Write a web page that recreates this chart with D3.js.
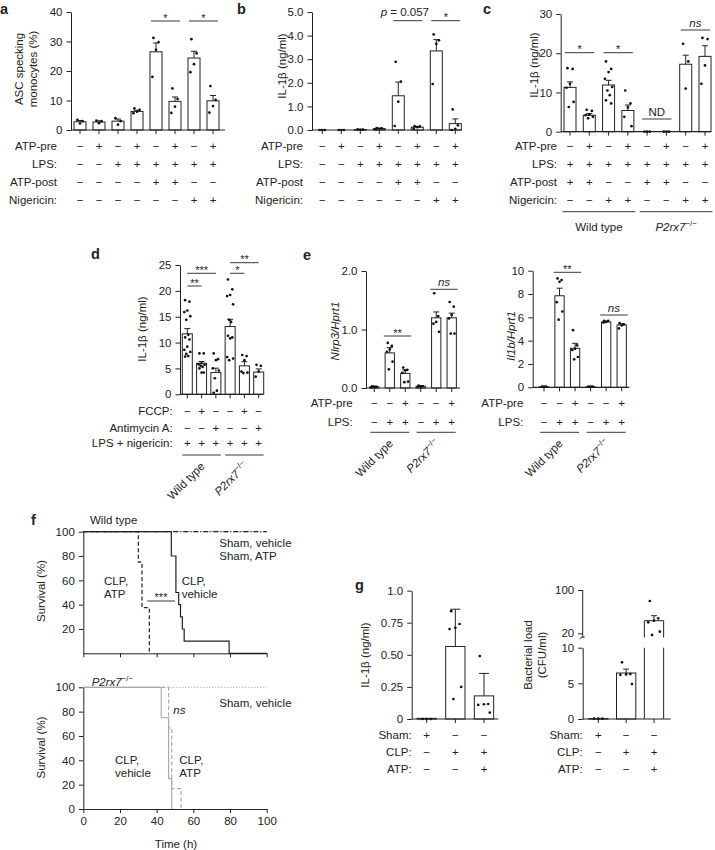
<!DOCTYPE html>
<html>
<head>
<meta charset="utf-8">
<script src="https://cdnjs.cloudflare.com/ajax/libs/d3/7.8.5/d3.min.js"></script>
<style>
  body { margin: 0; background: #fff; }
  svg { display: block; }
  text { fill: #222; }
</style>
</head>
<body>
<div id="fig"></div>
<script>
// ---- panel a : ASC specking
var aMeans = [2.8, 2.7, 3.0, 6.3, 26.5, 9.7, 24.4, 9.9];
var aSem = [0.4, 0.4, 0.7, 0.4, 3.0, 1.5, 2.3, 1.8];
var aDots = [[3.4, 3.0, 2.2], [3.2, 3.0, 2.3], [4.0, 3.0, 1.8], [7.3, 6.8, 6.2, 5.7],
             [31.2, 29.8, 27.2, 18.0], [14.1, 10.5, 7.9, 5.8], [30.8, 26.0, 22.3, 19.6], [14.9, 10.2, 8.1, 5.9]];
var abRowLabels = ["ATP-pre", "LPS:", "ATP-post", "Nigericin:"];
var aRowSigns = ["-+-+-+-+", "--++++++", "----++--", "------++"];
var aSig = [[4, 5, "*"], [6, 7, "*"]];

// ---- panel b : IL-1b
var bMeans = [0, 0, 0.02, 0.06, 1.45, 0.12, 3.35, 0.27];
var bSem = [0, 0, 0.01, 0.02, 0.58, 0.03, 0.48, 0.2];
var bDots = [[0, 0, 0], [0, 0, 0], [0.03, 0.02, 0.01], [0.08, 0.07, 0.05, 0.03],
             [2.89, 2.05, 1.2, 0.17], [0.16, 0.15, 0.12, 0.06], [4.05, 3.8, 3.65, 1.95], [0.87, 0.2, 0.05, 0.0]];
var bSig = [[4, 5, "p"], [6, 7, "*"]];

// ---- panel c : IL-1b, wild type vs P2rx7
var cMeans = [11.3, 4.2, 11.9, 5.4, 0, 0, 17.2, 19.2];
var cSem = [1.4, 0.4, 1.2, 1.4, 0, 0, 2.3, 2.7];
var cDots = [[16.2, 16.0, 12.2, 11.2, 7.6, 6.3], [5.6, 5.3, 4.4, 4.2, 3.8, 3.4],
             [17.9, 16.0, 15.2, 13.5, 11.4, 10.5, 9.3, 8.0, 7.2], [10.5, 7.2, 6.2, 3.8, 1.4],
             [0, 0, 0], [0, 0, 0], [22.4, 17.9, 11.0], [23.9, 23.6, 16.9, 12.2]];
var cRowSigns = ["-+-+-+-+", "++++++++", "++--++--", "--++--++"];
var cSig = [[0, 1, "*"], [2, 3, "*"], [4, 5, "ND"], [6, 7, "ns"]];
var groupNames = ["Wild type", "P2rx7"];

// ---- panel d : FCCP / antimycin A
var dMeans = [11.7, 6.0, 4.2, 13.1, 5.5, 4.3];
var dSem = [1.0, 0.35, 0.85, 1.4, 0.8, 0.6];
var dDots = [[18.2, 17.9, 16.2, 15.9, 15.1, 14.4, 11.5, 11.0, 10.6, 9.2, 8.6, 8.2, 7.8, 7.4, 7.3],
             [7.9, 7.9, 6.0, 5.8, 5.7, 5.5, 5.3, 5.0, 4.2, 4.2],
             [7.9, 6.8, 6.6, 5.0, 4.6, 3.1, 0.7, 0.3],
             [22.2, 20.3, 19.2, 19.0, 17.4, 14.4, 14.0, 11.3, 11.0, 10.8, 7.2, 6.9, 6.6],
             [7.6, 7.4, 6.6, 4.4, 4.2, 4.1],
             [5.7, 5.5, 4.4, 3.4]];
var dRowLabels = ["FCCP:", "Antimycin A:", "LPS + nigericin:"];
var dRowSigns = ["-+--+-", "--+--+", "++++++"];
var dSig = [[0, 2, "***"], [0, 1, "**"], [3, 5, "**"], [3, 4, "*"]];

// ---- panel e : Nlrp3 and Il1b expression
var e1Means = [0.02, 0.6, 0.25, 0.03, 1.2, 1.2];
var e1Sem = [0.01, 0.09, 0.06, 0.01, 0.1, 0.08];
var e1Dots = [[0.03, 0.02, 0.02, 0.01], [0.77, 0.72, 0.66, 0.62, 0.45, 0.32], [0.35, 0.31, 0.3, 0.26, 0.11, 0.1],
              [0.04, 0.03, 0.02, 0.02], [1.62, 1.23, 1.13, 1.1, 0.96], [1.47, 1.39, 1.25, 1.19, 0.93, 0.93]];
var e2Means = [0.05, 7.85, 3.35, 0.05, 5.6, 5.35];
var e2Sem = [0.02, 0.65, 0.42, 0.02, 0.08, 0.1];
var e2Dots = [[0.06, 0.05, 0.05], [9.34, 9.2, 9.05, 7.3, 6.5, 5.8], [4.9, 3.6, 3.3, 3.2, 2.6, 2.4],
              [0.06, 0.05, 0.05], [5.7, 5.7, 5.6, 5.55], [5.5, 5.4, 5.3, 5.05]];
var eRowLabels = ["ATP-pre", "LPS:"];
var eRowSigns = ["--+--+", "-++-++"];
var eSig = [[1, 2, "**"], [4, 5, "ns"]];

// ---- panel f : survival curves  [time (h), survival (%)]
var fWtShamVeh = [[0, 100], [100, 100]];
var fWtShamAtp = [[0, 100], [100, 100]];
var fWtClpAtp = [[0, 100], [30, 75], [32, 37.5], [36, 0], [36, 0]];
var fWtClpVeh = [[0, 100], [48, 80], [50.5, 50], [52, 40], [53, 30], [54, 20], [55, 10], [79.5, 0], [100, 0]];
var fKoShamVeh = [[0, 100], [100, 100]];
var fKoClpVeh = [[0, 100], [42.5, 75], [46.5, 25], [48.2, 0], [48.2, 0]];
var fKoClpAtp = [[0, 100], [46.5, 66.7], [48.2, 16.7], [53.3, 0], [53.3, 0]];
var fTicks = [0, 20, 40, 60, 80, 100];

// ---- panel g : CLP
var g1Means = [0.005, 0.565, 0.18];
var g1Sd = [0, 0.29, 0.175];
var g1Dots = [[0, 0, 0], [0.84, 0.74, 0.71, 0.70, 0.25, 0.155], [0.49, 0.117, 0.115, 0.11, 0.05]];
var g2Means = [0.05, 6.45, 43.3];
var g2Sem = [0.02, 0.55, 9.2];
var g2Dots = [[0.05, 0.05, 0.05], [7.95, 6.3, 6.25, 6.2, 4.9], [79.7, 47.7, 43.3, 40.3, 23, 17]];
var gRowLabels = ["Sham:", "CLP:", "ATP:"];
var gRowSigns = ["+--", "-++", "--+"];

var font = "'Liberation Sans', Arial, Helvetica, sans-serif";
var ink = "#222";
var fs = 11.5;

var svg = d3.select("#fig").append("svg")
  .attr("width", 715)
  .attr("height", 850)
  .style("font-family", font);

function styleAxis(sel) {
  sel.attr("font-family", null).attr("font-size", null);
  sel.select(".domain").attr("stroke", ink).attr("stroke-width", 1);
  sel.selectAll(".tick line").attr("stroke", ink).attr("stroke-width", 1);
  sel.selectAll(".tick text").attr("fill", ink).style("font-size", fs + "px");
}

function sign(c) { return c == "+" ? "+" : "\u2212"; }

function koText(t, size) {
  t.append("tspan").attr("font-style", "italic").text("P2rx7");
  t.append("tspan").attr("font-size", size * 0.68).attr("dy", -size * 0.42).text("\u2212/\u2212");
}

function panelLetter(x, y, s) {
  svg.append("text").attr("x", x).attr("y", y).text(s)
    .style("font-size", "14.5px").style("font-weight", "bold");
}

function yLabel(x, y, lines, italic) {
  lines.forEach(function(s, k) {
    svg.append("text")
      .attr("transform", "translate(" + (x + k * 13.5) + "," + y + ") rotate(-90)")
      .attr("text-anchor", "middle")
      .attr("dominant-baseline", "central")
      .attr("font-style", italic ? "italic" : null)
      .style("font-size", fs + "px")
      .text(s);
  });
}

var jit = [-2.6, 2.6, 0, -3.6, 3.6, -1.2, 1.2];

function barPanel(L, means, errs, dots, rowLabels, rowSigns, sigs) {
  var g = svg.append("g");
  var x = d3.scalePoint().domain(d3.range(means.length)).range(L.xr);
  var y = d3.scaleLinear().domain(L.yd).range(L.yr);

  var yAxis = d3.axisLeft(y).tickValues(L.ticks).tickSize(4.5).tickSizeOuter(0).tickPadding(4);
  if (L.fmt) yAxis.tickFormat(L.fmt);
  g.append("g").attr("transform", "translate(" + L.ax + ",0)").call(yAxis).call(styleAxis);

  // bars
  g.selectAll(".bar").data(means).join("rect")
    .attr("x", function(d, i) { return x(i) - L.bw / 2; })
    .attr("y", function(d) { return y(d); })
    .attr("width", L.bw)
    .attr("height", function(d) { return y(L.yd[0]) - y(d); })
    .attr("fill", "#fff").attr("stroke", ink).attr("stroke-width", 1);

  // x baseline and ticks under bars
  g.append("line").attr("x1", L.ax).attr("x2", L.xEnd).attr("y1", y(0)).attr("y2", y(0))
    .attr("stroke", ink).attr("stroke-width", 1.2);
  g.selectAll(".xt").data(means).join("line")
    .attr("x1", function(d, i) { return x(i); }).attr("x2", function(d, i) { return x(i); })
    .attr("y1", y(0)).attr("y2", y(0) + 4)
    .attr("stroke", ink);

  // error bars (upper)
  means.forEach(function(m, i) {
    if (errs[i] <= 0) return;
    var cx = x(i), cap = L.cap || 3;
    g.append("path")
      .attr("d", "M" + cx + "," + y(m) + "V" + y(m + errs[i]) + "M" + (cx - cap) + "," + y(m + errs[i]) + "H" + (cx + cap))
      .attr("stroke", ink).attr("fill", "none");
  });

  // individual points
  dots.forEach(function(list, i) {
    list.forEach(function(v, k) {
      g.append("circle").attr("cx", x(i) + jit[k % jit.length] * L.bw / 12).attr("cy", y(v))
        .attr("r", 1.35).attr("fill", "#111");
    });
  });

  // condition rows
  rowLabels.forEach(function(lab, r) {
    g.append("text").attr("x", L.rowX).attr("y", L.rows[r])
      .attr("text-anchor", "end").attr("dominant-baseline", "central")
      .style("font-size", fs + "px").text(lab);
    rowSigns[r].split("").forEach(function(c, i) {
      g.append("text").attr("x", x(i)).attr("y", L.rows[r])
        .attr("text-anchor", "middle").attr("dominant-baseline", "central")
        .style("font-size", fs + "px").text(sign(c));
    });
  });

  // significance brackets
  (sigs || []).forEach(function(s, k) {
    var ly = L.sigY[k];
    var x1 = x(s[0]) - L.sigPad, x2 = x(s[1]) + L.sigPad;
    g.append("line").attr("x1", x1).attr("x2", x2).attr("y1", ly).attr("y2", ly)
      .attr("stroke", ink).attr("stroke-width", 0.9);
    var cx = (x1 + x2) / 2;
    if (s[2] == "p") {
      var t = g.append("text").attr("x", cx - 3).attr("y", ly - 5).attr("text-anchor", "middle")
        .style("font-size", fs + "px");
      t.append("tspan").attr("font-style", "italic").text("p");
      t.append("tspan").text(" = 0.057");
    } else if (s[2] == "ns" || s[2] == "ND") {
      g.append("text").attr("x", cx).attr("y", ly - 3).attr("text-anchor", "middle")
        .attr("font-style", s[2] == "ns" ? "italic" : null)
        .style("font-size", fs + "px").text(s[2]);
    } else {
      g.append("text").attr("x", cx).attr("y", ly + 0.5).attr("text-anchor", "middle")
        .style("font-size", "11px").text(s[2]);
    }
  });

  // genotype groups
  if (L.groupY) {
    var half = means.length / 2;
    [0, 1].forEach(function(gi) {
      var x1 = x(gi * half) - L.groupPad, x2 = x(gi * half + half - 1) + L.groupPad;
      g.append("line").attr("x1", x1).attr("x2", x2).attr("y1", L.groupY).attr("y2", L.groupY)
        .attr("stroke", ink).attr("stroke-width", 0.9);
      var cx = (x1 + x2) / 2;
      var t;
      if (L.groupRot) {
        t = g.append("text").attr("text-anchor", "end")
          .attr("transform", "translate(" + (cx + 4) + "," + (L.groupY + 12) + ") rotate(-45)")
          .style("font-size", fs + "px");
      } else {
        t = g.append("text").attr("x", cx).attr("y", L.groupY + 19).attr("text-anchor", "middle")
          .style("font-size", fs + "px");
      }
      if (gi == 0) t.text(groupNames[0]); else koText(t, fs);
    });
  }
  return { x: x, y: y };
}

// ---------------- a
panelLetter(0, 14, "a");
barPanel({ ax: 71, xr: [80, 213], xEnd: 225, yd: [0, 40], yr: [130, 12], ticks: [0, 10, 20, 30, 40],
           bw: 12, rows: [146, 164, 182, 200], rowX: 57, sigY: [21, 21], sigPad: 5 },
         aMeans, aSem, aDots, abRowLabels, aRowSigns, aSig);
yLabel(19, 69, ["ASC specking", "monocytes (%)"]);

// ---------------- b
panelLetter(237, 14, "b");
barPanel({ ax: 312, xr: [322.3, 455.3], xEnd: 462, yd: [0, 5], yr: [130, 12], ticks: [0, 1, 2, 3, 4, 5],
           bw: 12, rows: [146, 164, 182, 200], rowX: 303, sigY: [20.7, 20.7], sigPad: 5 },
         bMeans, bSem, bDots, abRowLabels, aRowSigns, bSig);
yLabel(282, 66, ["IL-1\u03b2 (ng/ml)"]);

// ---------------- c
panelLetter(483, 14, "c");
barPanel({ ax: 560.7, xr: [570, 705], xEnd: 711, yd: [0, 30], yr: [131.7, 14], ticks: [0, 10, 20, 30],
           bw: 12, rows: [146, 164, 182, 200], rowX: 557, sigY: [52.7, 52.7, 119, 30], sigPad: 5,
           groupY: 211.7, groupPad: 7.5 },
         cMeans, cSem, cDots, abRowLabels, cRowSigns, cSig);
yLabel(533.5, 65, ["IL-1\u03b2 (ng/ml)"]);

// ---------------- d
panelLetter(91, 259, "d");
barPanel({ ax: 180, xr: [187.3, 258.7], xEnd: 263, yd: [0, 25], yr: [394.3, 265], ticks: [0, 5, 10, 15, 20, 25],
           bw: 10, rows: [411, 427.7, 443.3], rowX: 172.7, sigY: [273.3, 286, 262.7, 273.3], sigPad: 0,
           groupY: 455, groupPad: 5, groupRot: true },
         dMeans, dSem, dDots, dRowLabels, dRowSigns, dSig);
yLabel(141.7, 329, ["IL-1\u03b2 (ng/ml)"]);

// ---------------- e
panelLetter(303, 260, "e");
barPanel({ ax: 366, xr: [374.3, 451.7], xEnd: 460, yd: [0, 2], yr: [388, 271], ticks: [0, 1, 2],
           bw: 9.3, rows: [403.3, 421.7], rowX: 352.7, sigY: [336, 289.3], sigPad: 6,
           groupY: 432.3, groupPad: 4, groupRot: true },
         e1Means, e1Sem, e1Dots, eRowLabels, eRowSigns, eSig);
yLabel(335, 331, ["Nlrp3/Hprt1"], true);
barPanel({ ax: 532.7, xr: [544, 621.7], xEnd: 629.3, yd: [0, 10], yr: [387.3, 270.7], ticks: [0, 2, 4, 6, 8, 10],
           bw: 9.3, rows: [403.3, 421.7], rowX: 523.3, sigY: [272.3, 315], sigPad: 6,
           groupY: 432.3, groupPad: 4, groupRot: true },
         e2Means, e2Sem, e2Dots, eRowLabels, eRowSigns, eSig);
yLabel(510.7, 336, ["Il1b/Hprt1"], true);

// ---------------- f
panelLetter(31, 525, "f");
var fx = d3.scaleLinear().domain([0, 100]).range([83.3, 266.7]);
var fyTop = d3.scaleLinear().domain([0, 100]).range([653.3, 531.7]);
var fyBot = d3.scaleLinear().domain([0, 100]).range([809, 687.3]);

function survAxes(fy, labelX0) {
  var ya = d3.axisLeft(fy).tickValues(labelX0 ? fTicks : fTicks.slice(1)).tickSize(4.5).tickSizeOuter(0).tickPadding(4);
  svg.append("g").attr("transform", "translate(" + fx(0) + ",0)").call(ya).call(styleAxis);
  var xa = d3.axisBottom(fx).tickValues(fTicks).tickSize(4).tickSizeOuter(0).tickPadding(4);
  if (!labelX0) xa.tickFormat("");
  svg.append("g").attr("transform", "translate(0," + fy(0) + ")").call(xa).call(styleAxis);
}

function survLine(data, fy, color, dash, w) {
  svg.append("path").datum(data)
    .attr("d", d3.line().x(function(d) { return fx(d[0]); }).y(function(d) { return fy(d[1]); }).curve(d3.curveStepAfter))
    .attr("fill", "none").attr("stroke", color).attr("stroke-width", w || 1.2)
    .attr("stroke-dasharray", dash);
}

function note(x, y, lines, italic) {
  lines.forEach(function(s, k) {
    svg.append("text").attr("x", x).attr("y", y + k * 13.3)
      .attr("font-style", italic ? "italic" : null)
      .style("font-size", fs + "px").text(s);
  });
}

survAxes(fyTop, false);
survLine(fWtShamVeh, fyTop, "#777", "1,2");
survLine(fWtShamAtp, fyTop, "#222", "5,2,1,2");
survLine(fWtClpAtp, fyTop, "#222", "4,2.5");
survLine(fWtClpVeh, fyTop, "#222", null);
svg.append("text").attr("x", 90).attr("y", 524).style("font-size", fs + "px").text("Wild type");
note(219.3, 547, ["Sham, vehicle", "Sham, ATP"]);
note(104, 585, ["CLP,", "ATP"]);
note(181.7, 585, ["CLP,", "vehicle"]);
svg.append("line").attr("x1", 147.3).attr("x2", 175).attr("y1", 601).attr("y2", 601).attr("stroke", ink).attr("stroke-width", 0.9);
svg.append("text").attr("x", 161).attr("y", 601).attr("text-anchor", "middle").style("font-size", "11px").text("***");
yLabel(40.7, 591, ["Survival (%)"]);

survAxes(fyBot, true);
survLine(fKoShamVeh, fyBot, "#aaa", "1,2");
survLine(fKoClpAtp, fyBot, "#aaa", "4,2.5");
survLine(fKoClpVeh, fyBot, "#aaa", null);
koText(svg.append("text").attr("x", 91.7).attr("y", 686).style("font-size", fs + "px"), fs);
note(219.3, 707, ["Sham, vehicle"]);
note(173.3, 714, ["ns"], true);
note(115, 764, ["CLP,", "vehicle"]);
note(179.3, 764, ["CLP,", "ATP"]);
svg.append("text").attr("x", 176).attr("y", 848).attr("text-anchor", "middle").style("font-size", fs + "px").text("Time (h)");
yLabel(40.7, 747.5, ["Survival (%)"]);

// ---------------- g
panelLetter(355, 590, "g");
barPanel({ ax: 411.7, xr: [426.7, 484], xEnd: 498.3, yd: [0, 1], yr: [719, 590.6], ticks: [0, 0.25, 0.5, 0.75, 1],
           fmt: function(d) { return d == 0 ? "0" : d == 1 ? "1.0" : d3.format(".2f")(d); },
           bw: 19.3, rows: [735, 752.3, 769.3], rowX: 411.7, cap: 5 },
         g1Means, g1Sd, g1Dots, gRowLabels, gRowSigns, []);
yLabel(365, 655, ["IL-1\u03b2 (ng/ml)"]);

// bacterial load with broken axis
(function() {
  var ax = 582.7, bw = 19.3;
  var x = d3.scalePoint().domain([0, 1, 2]).range([598.3, 654]);
  var yLo = d3.scaleLinear().domain([0, 10]).range([719, 647.7]);
  var yHi = d3.scaleLinear().domain([20, 100]).range([633.3, 590]);
  var breakY = 637.5;
  function yv(v) { return v <= 10 ? yLo(v) : yHi(v); }

  svg.append("g").attr("transform", "translate(" + ax + ",0)")
    .call(d3.axisLeft(yLo).tickValues([0, 5, 10]).tickSize(4.5).tickSizeOuter(0).tickPadding(4)).call(styleAxis);
  var up = svg.append("g").attr("transform", "translate(" + ax + ",0)")
    .call(d3.axisLeft(yHi).tickValues([20, 100]).tickSize(4.5).tickSizeOuter(0).tickPadding(4)).call(styleAxis);
  up.select(".domain").remove();
  svg.append("line").attr("x1", ax).attr("x2", ax).attr("y1", breakY).attr("y2", yHi(100)).attr("stroke", ink);
  svg.append("path").attr("d", "M" + (ax - 3) + "," + (breakY + 1.5) + "q2,-3 5,-2")
    .attr("stroke", ink).attr("fill", "none");

  // bars
  g2Means.forEach(function(m, i) {
    var x1 = x(i) - bw / 2, x2 = x(i) + bw / 2;
    if (m <= 10) {
      svg.append("rect").attr("x", x1).attr("y", yLo(m)).attr("width", bw).attr("height", yLo(0) - yLo(m))
        .attr("fill", "#fff").attr("stroke", ink);
    } else {
      svg.append("path").attr("d", "M" + x1 + "," + yLo(0) + "V" + yLo(10) + "M" + x2 + "," + yLo(10) + "V" + yLo(0))
        .attr("fill", "none").attr("stroke", ink);
      svg.append("path").attr("d", "M" + x1 + "," + breakY + "V" + yHi(m) + "H" + x2 + "V" + breakY)
        .attr("fill", "#fff").attr("stroke", ink);
    }
    if (g2Sem[i] > 0.1) {
      svg.append("path")
        .attr("d", "M" + x(i) + "," + yv(m) + "V" + yv(m + g2Sem[i]) + "M" + (x(i) - 3) + "," + yv(m + g2Sem[i]) + "H" + (x(i) + 3))
        .attr("stroke", ink).attr("fill", "none");
    }
  });
  svg.append("line").attr("x1", ax).attr("x2", 670.7).attr("y1", yLo(0)).attr("y2", yLo(0)).attr("stroke", ink).attr("stroke-width", 1.2);
  x.domain().forEach(function(i) {
    svg.append("line").attr("x1", x(i)).attr("x2", x(i)).attr("y1", yLo(0)).attr("y2", yLo(0) + 4).attr("stroke", ink);
  });
  g2Dots.forEach(function(list, i) {
    list.forEach(function(v, k) {
      svg.append("circle").attr("cx", x(i) + jit[k % jit.length] * bw / 12).attr("cy", yv(v))
        .attr("r", 1.35).attr("fill", "#111");
    });
  });
  var rows = [735, 752.3, 769.3];
  gRowLabels.forEach(function(lab, r) {
    svg.append("text").attr("x", ax).attr("y", rows[r]).attr("text-anchor", "end").attr("dominant-baseline", "central")
      .style("font-size", fs + "px").text(lab);
    gRowSigns[r].split("").forEach(function(c, i) {
      svg.append("text").attr("x", x(i)).attr("y", rows[r]).attr("text-anchor", "middle").attr("dominant-baseline", "central")
        .style("font-size", fs + "px").text(sign(c));
    });
  });
})();
yLabel(528.3, 655, ["Bacterial load", "(CFU/ml)"]);
</script>
</body>
</html>
